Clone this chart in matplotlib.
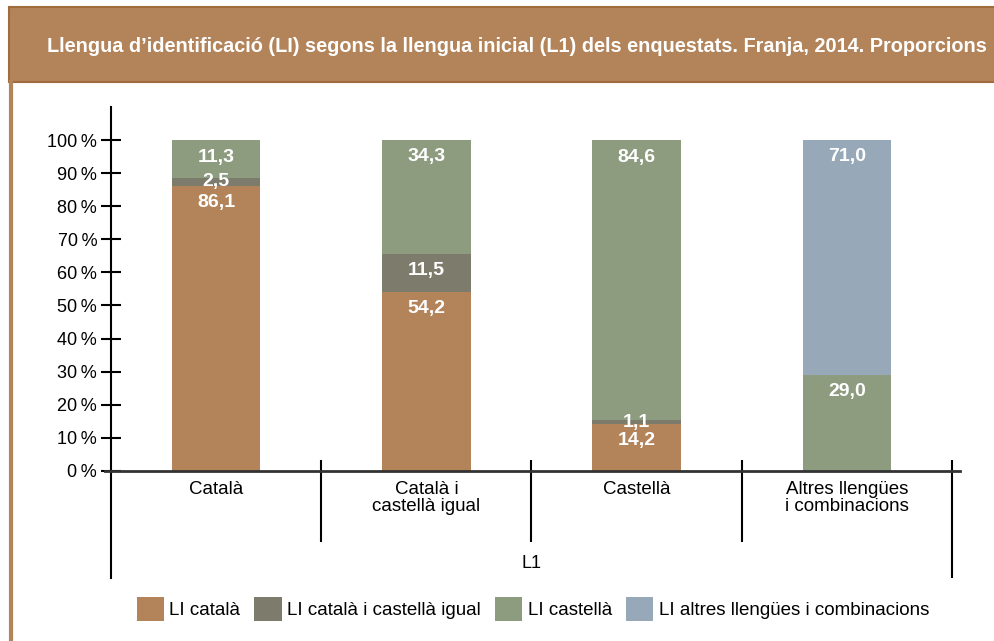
import matplotlib
matplotlib.use("Agg")
import matplotlib.pyplot as plt
import numpy as np
from matplotlib.patches import Rectangle, Patch
from matplotlib.lines import Line2D

plt.rcParams['font.family'] = ['Liberation Sans', 'DejaVu Sans']

# L1 categories (x axis)
categories = ["Català", "Català i\ncastellà igual", "Castellà", "Altres llengües\ni combinacions"]
# LI series (stacked)
series_names = ["LI català", "LI català i castellà igual", "LI castellà",
                "LI altres llengües i combinacions"]
li_catala = [86.1, 54.2, 14.2, 0.0]
li_cat_cast = [2.5, 11.5, 1.1, 0.0]
li_castella = [11.3, 34.3, 84.6, 29.0]
li_altres = [0.0, 0.0, 0.0, 71.0]
yticks = list(range(0, 101, 10))
ytick_labels = [f"{t}\u2009%" for t in yticks]

colors = ["#b3845a", "#7d7b6c", "#8d9b7e", "#97a9b9"]
brown = "#b3845a"

fig = plt.figure(figsize=(9.94, 6.41), dpi=100)
W, H = 994, 641

# header band
fig.patches.append(Rectangle((9 / W, 1 - 82 / H), 1, 75 / H, transform=fig.transFigure,
                             facecolor=brown, edgecolor="#a06c3e", linewidth=1.5, zorder=0))
fig.add_artist(Line2D([10.5 / W, 10.5 / W], [0, 1 - 82 / H], transform=fig.transFigure,
                      color=brown, linewidth=3))
fig.text(47 / W, 1 - 46 / H,
         "Llengua d\u2019identificació (LI) segons la llengua inicial (L1) dels enquestats. Franja, 2014. Proporcions",
         color="white", fontsize=14.3, fontweight="bold", ha="left", va="center")

ax = fig.add_axes([104.8 / W, 1 - 578 / H, 855.5 / W, (578 - 107) / H])
ax.set_xlim(-0.53, 3.54)
ax.set_ylim(-32.4, 110.0)

x = np.arange(len(categories))
width = 0.42
data = [li_catala, li_cat_cast, li_castella, li_altres]
bottom = np.zeros(len(categories))
for vals, col, name in zip(data, colors, series_names):
    vals = np.array(vals)
    ax.bar(x, vals, width, bottom=bottom, color=col, label=name, zorder=2)
    for xi, v, b in zip(x, vals, bottom):
        if v <= 0:
            continue
        lab = f"{v:.1f}".replace(".", ",")
        if v < 5:
            ax.text(xi, b + v / 2, lab, ha="center", va="center", color="white",
                    fontsize=14, fontweight="bold", zorder=3)
        else:
            ax.annotate(lab, (xi, b + v), xytext=(0, -6), textcoords="offset points",
                        ha="center", va="top", color="white", fontsize=14,
                        fontweight="bold", zorder=3)
    bottom = bottom + vals

# axes lines
for s in ["top", "right"]:
    ax.spines[s].set_visible(False)
ax.spines["left"].set_position(("data", -0.5))
ax.spines["left"].set_linewidth(1.5)
ax.spines["bottom"].set_position(("data", 0))
ax.spines["bottom"].set_linewidth(2)
ax.spines["bottom"].set_color("#333333")

ax.set_yticks(yticks)
ax.set_yticklabels(ytick_labels, fontsize=13)
ax.tick_params(axis="y", direction="inout", length=14, width=1.5, pad=3)
ax.set_xticks(x)
ax.set_xticklabels(categories, fontsize=13.5, linespacing=1.0)
ax.tick_params(axis="x", length=0, pad=7)

# category separators
seps = x + 0.5
ax.vlines(seps[:-1], -21.6, 3.2, color="black", linewidth=1.5)
ax.vlines(seps[-1:], -32.4, 3.2, color="black", linewidth=1.5)
ax.text(1.5, -27.9, "L1", ha="center", va="center", fontsize=13)

handles = [Patch(facecolor=c) for c in colors]
fig.legend(handles, series_names, loc="center", bbox_to_anchor=(533 / W, 1 - 609 / H),
           ncol=4, frameon=False, fontsize=13.5, handlelength=1.45, handleheight=1.6,
           handletextpad=0.3, columnspacing=0.75, borderpad=0)

fig.savefig("out.png", dpi=100)
